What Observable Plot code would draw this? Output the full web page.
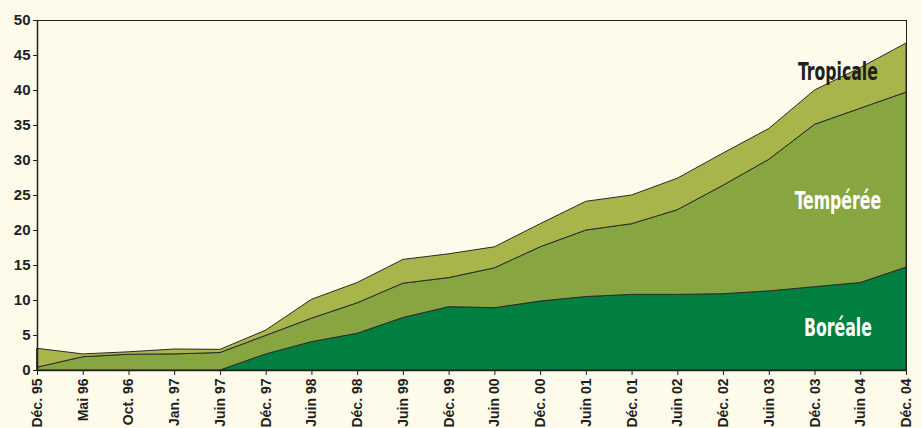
<!DOCTYPE html>
<html><head><meta charset="utf-8">
<script src="https://cdn.jsdelivr.net/npm/d3@7"></script>
<script src="https://cdn.jsdelivr.net/npm/@observablehq/plot@0.6"></script>
<style>
html,body{margin:0;padding:0;background:#fffbea;}
#chart svg{display:block;}
</style></head><body><div id="chart"></div>
<script>
const periods = ["Déc. 95","Mai 96","Oct. 96","Jan. 97","Juin 97","Déc. 97","Juin 98","Déc. 98","Juin 99","Déc. 99","Juin 00","Déc. 00","Juin 01","Déc. 01","Juin 02","Déc. 02","Juin 03","Déc. 03","Juin 04","Déc. 04"];
const boreale   = [0, 0, 0, 0, 0, 2.3, 4.05, 5.25, 7.5, 9.05, 8.9, 9.85, 10.5, 10.8, 10.8, 10.9, 11.3, 11.9, 12.5, 14.7];
const temperee  = [0.4, 1.9, 2.25, 2.3, 2.5, 2.65, 3.35, 4.35, 4.9, 4.15, 5.7, 7.75, 9.5, 10.1, 12.1, 15.5, 18.8, 23.2, 24.9, 25.0];
const tropicale = [2.7, 0.4, 0.35, 0.7, 0.45, 0.75, 2.7, 2.9, 3.4, 3.4, 3.0, 3.3, 4.1, 4.1, 4.5, 4.6, 4.4, 4.9, 5.8, 7.0];
const seriesNames = ["Boréale", "Tempérée", "Tropicale"];
const seriesColors = ["#007f40", "#87a541", "#a8b54a"];
const yTicks = d3.range(0, 51, 5);

const seriesValues = [boreale, temperee, tropicale];
const data = [];
periods.forEach((p, i) => {
  seriesNames.forEach((s, k) => data.push({i, period: p, serie: s, v: seriesValues[k][i]}));
});

// Series labels placed between Déc. 03 and Juin 04
const a = 17, b = 18;
const cum = (k, i) => seriesValues.slice(0, k + 1).reduce((s, arr) => s + arr[i], 0);
const avgCum = k => (cum(k, a) + cum(k, b)) / 2;
const innerLabels = [
  {name: "Boréale", x: (a + b) / 2, y: avgCum(0) / 2},
  {name: "Tempérée", x: (a + b) / 2, y: (avgCum(0) + avgCum(1)) / 2}
];
const topLabel = [{name: "Tropicale", x: (a + b) / 2, y: avgCum(2)}];
const labelFont = "'Liberation Sans Narrow', 'DejaVu Sans Condensed', sans-serif";

const chart = Plot.plot({
  width: 922,
  height: 428,
  marginLeft: 37,
  marginRight: 16,
  marginTop: 20,
  marginBottom: 58,
  style: {background: "#fffbea", fontFamily: "'Liberation Sans', Arial, sans-serif", fontSize: "15px", fontWeight: "bold", color: "#231f20"},
  x: {type: "linear", domain: [0, periods.length - 1], axis: null},
  y: {domain: [0, 50], axis: null},
  color: {domain: seriesNames, range: seriesColors},
  marks: [
    Plot.areaY(data, Plot.stackY({x: "i", y: "v", z: "serie", fill: "serie", order: seriesNames, stroke: "#2a2a2a", strokeWidth: 1, strokeLinejoin: "round"})),
    Plot.frame({stroke: "#231f20", strokeWidth: 1}),
    Plot.ruleX([0], {stroke: "#231f20", strokeWidth: 1.5}),
    Plot.ruleY([0], {stroke: "#231f20", strokeWidth: 1.5}),
    Plot.axisY({ticks: yTicks, tickSize: 4, tickPadding: 3, fontSize: 15, fontWeight: "bold"}),
    Plot.axisX({ticks: d3.range(periods.length), tickFormat: i => periods[i], tickRotate: -90, tickSize: 5, tickPadding: 3, fontSize: 14, fontWeight: "bold"}),
    Plot.text(innerLabels, {x: "x", y: "y", text: "name", fill: "#ffffff", fontSize: 25, fontWeight: "bold", fontFamily: labelFont}),
    Plot.text(topLabel, {x: "x", y: "y", text: "name", fill: "#231f20", dy: -7, fontSize: 25, fontWeight: "bold", fontFamily: labelFont})
  ]
});
// condense the series labels horizontally (scale around their centred anchor)
d3.select(chart).selectAll("text")
  .filter(function() { return seriesNames.includes(this.textContent); })
  .attr("transform", function() { return (this.getAttribute("transform") || "") + " scale(0.7,1)"; });
document.getElementById("chart").appendChild(chart);
</script>
</body></html>
